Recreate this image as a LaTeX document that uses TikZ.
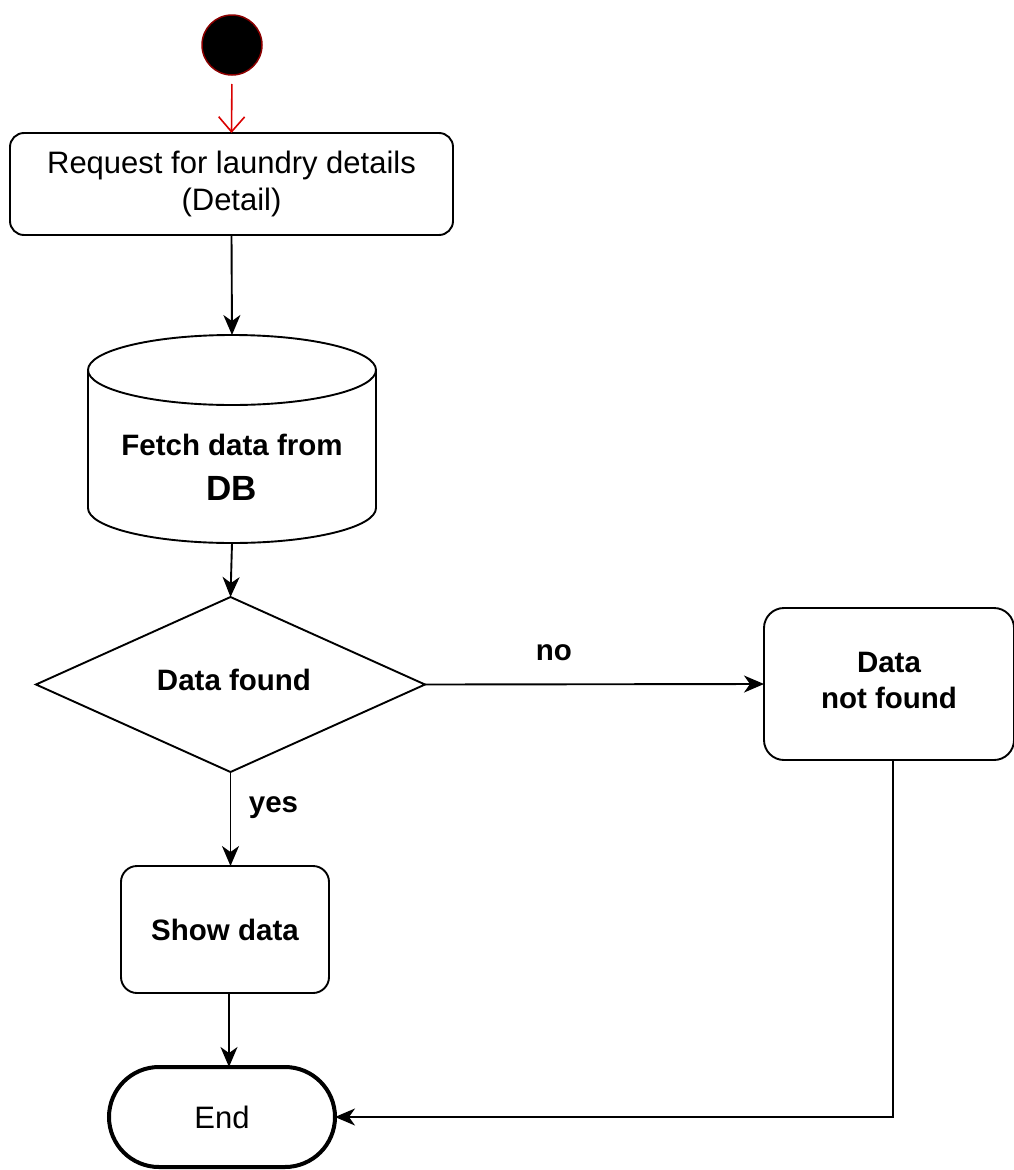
\documentclass[tikz,border=0pt]{standalone}
\usepackage{fontspec}
\setmainfont{Liberation Sans}
\usetikzlibrary{arrows.meta,shapes.geometric}
\begin{document}
\begin{tikzpicture}[x=1pt,y=-1pt,
  line width=1.9pt,
  every node/.style={inner sep=0pt, outer sep=0pt},
  reg/.style={font=\fontsize{31}{37}\selectfont, align=center},
  bld/.style={font=\fontsize{29.5}{36}\selectfont\bfseries, align=center},
  box/.style={draw, rectangle, rounded corners=14pt},
  arr/.style={-{Stealth[length=20pt,width=17pt,inset=6pt]}},
]
\useasboundingbox (0,0) rectangle (1014,1170);

% start
\node[circle, fill=black, draw=red!55!black, line width=1.5pt, minimum size=60pt] (start) at (232,45) {};

% request
\node[box, reg, minimum width=443pt, minimum height=102pt] (req) at (231.5,184) {Request for laundry details\\(Detail)};

% database cylinder (text node + drawn outline)
\node[minimum width=288pt, minimum height=208pt] (db) at (232,439) {};
\draw ([yshift=-35pt]db.north) ellipse [x radius=144pt, y radius=35pt];
\draw ([yshift=-35pt]db.north west) -- ([yshift=35pt]db.south west)
      arc[start angle=180, end angle=360, x radius=144pt, y radius=35pt]
      -- ([yshift=-35pt]db.north east);
\node[bld] (dbtext) at (232,467) {Fetch data from\\[9pt]{\fontsize{35}{40}\selectfont DB}};

% decision
\node[draw, diamond, aspect=2.22, minimum width=389pt, minimum height=175pt, bld] (dec) at (230.5,684.5) {};
\node[bld] (dectext) at (234,680) {Data found};

% not found
\node[box, rounded corners=20pt, minimum width=250pt, minimum height=152pt] (nf) at (889,684) {};
\node[bld] (nftext) at (889,680) {Data\\not found};

% show data
\node[box, rounded corners=16pt, bld, minimum width=208pt, minimum height=127pt] (show) at (225,929.5) {Show data};

% end
\node[draw, line width=4pt, rectangle, rounded corners=50pt, minimum width=226pt, minimum height=100pt, reg] (endn) at (222,1117) {End};

% connectors
\draw[red!85!black, line width=1.6pt, shorten <=9pt, -{Straight Barb[length=15pt,width=26pt]}] (start.south) -- (req.north);
\draw[arr] (req.south) -- (db.north);
\draw[arr] (db.south) -- (dec.north);
\draw[arr] (dec.east) -- node[bld, pos=0.38, yshift=32pt] (nolbl) {no} (nf.west);
\draw[arr] (dec.south) -- node[bld, pos=0.38, xshift=43pt] (yeslbl) {yes} (dec.south |- show.north);
\draw[arr] ([xshift=4pt]show.south) -- ([xshift=4pt]show.south |- endn.north);
\draw[arr] ([xshift=4pt]nf.south) |- (endn.east);
\end{tikzpicture}
\end{document}
